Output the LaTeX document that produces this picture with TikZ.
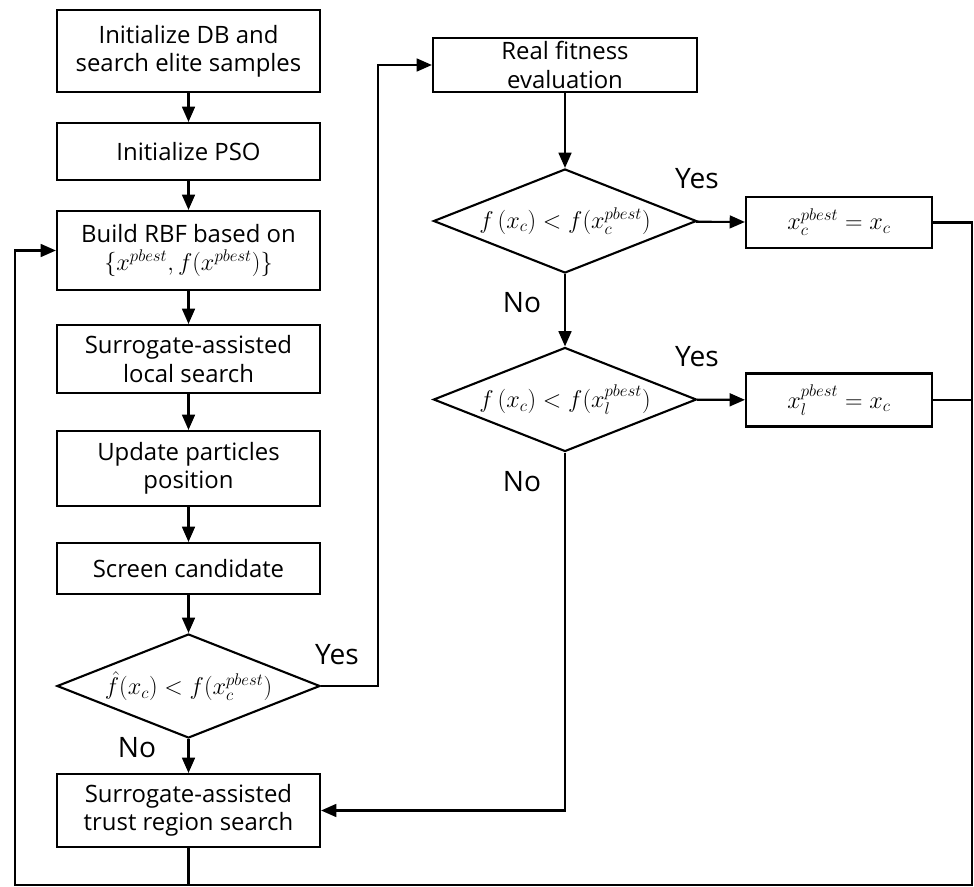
\documentclass[tikz,border=0pt]{standalone}
\usepackage{amsmath, amssymb}
\usepackage{fontspec}
\setmainfont{Open Sans}
\usepackage{tikz}
\usetikzlibrary{arrows.meta,shapes.geometric,positioning}

\tikzset{
    box/.style={draw, line width=1.5pt, align=center, inner sep=0pt,
        minimum width=6.575cm, font=\fontsize{17}{20}\selectfont},
    decision/.style={draw, diamond, line width=1.5pt, inner sep=0pt, aspect=2.5,
        minimum width=6.575cm, minimum height=2.6cm, font=\fontsize{16.5}{19}\selectfont},
    lbl/.style={font=\fontsize{20}{24}\selectfont}
}

\begin{document}
\begin{tikzpicture}[x=0.025cm, y=-0.025cm, line width=1.5pt,
    >={Triangle[length=0.38cm, width=0.32cm]}]
    \useasboundingbox (0,0) rectangle (974,887);
    % left column
    \node[box, minimum height=2.05cm] (init) at (188.5,51) {Initialize DB and\\search elite samples};
    \node[box, minimum height=1.425cm] (pso) at (188.5,151.5) {Initialize PSO};
    \node[box, minimum height=1.975cm] (rbf) at (188.5,250.5) {Build RBF based on\\$\{x^{pbest}, f(x^{pbest})\}$};
    \node[box, minimum height=1.7cm] (local) at (188.5,359) {Surrogate-assisted\\local search};
    \node[box, minimum height=1.875cm] (update) at (188.5,468.5) {Update particles\\position};
    \node[box, minimum height=1.275cm] (screen) at (188.5,568.5) {Screen candidate};
    \node[decision] (dec1) at (188.5,686) {$\hat{f}(x_c) < f(x_c^{pbest})$};
    \node[box, minimum height=1.825cm] (trust) at (188.5,810.5) {Surrogate-assisted\\trust region search};
    % right column
    \node[box, minimum width=6.6cm, minimum height=1.35cm] (real) at (565,65) {Real fitness\\evaluation};
    \node[decision] (dec2) at (565,221) {$f\,(x_c) < f(x_c^{pbest})$};
    \node[decision] (dec3) at (565,399.5) {$f\,(x_c) < f(x_l^{pbest})$};
    \node[box, minimum width=4.65cm, minimum height=1.275cm] (xc) at (839,222.5) {$x_c^{pbest} = x_c$};
    \node[box, minimum width=4.65cm, minimum height=1.325cm] (xl) at (839,400) {$x_l^{pbest} = x_c$};
    \coordinate (ybend) at (378,686);
    \coordinate (rb) at (972,885);
    \coordinate (lb) at (15,885);
    % connectors
    \draw[->] (init) -- (pso);
    \draw[->] (pso) -- (rbf);
    \draw[->] (rbf) -- (local);
    \draw[->] (local) -- (update);
    \draw[->] (update) -- (screen);
    \draw[->] (screen) -- (dec1);
    \draw[->] (dec1) -- (trust);
    \draw[->] (dec1.east) -- (ybend) |- (real.west);
    \draw[->] (real) -- (dec2);
    \draw[->] (dec2) -- (xc);
    \draw[->] (dec2) -- (dec3);
    \draw[->] (dec3) -- (xl);
    \draw[->] (dec3.south) |- (trust.east);
    \draw (xl.east) -- (xl.east -| rb);
    \draw (trust.south) -- (trust.south |- lb);
    \draw[->] (xc.east) -| (rb) -- (lb) |- (rbf.west);
    % labels
    \node[lbl] (yes1) at (337,655) {Yes};
    \node[lbl] (no1) at (137,748) {No};
    \node[lbl] (yes2) at (697,179) {Yes};
    \node[lbl] (no2) at (522,303) {No};
    \node[lbl] (yes3) at (697,357) {Yes};
    \node[lbl] (no3) at (522,482) {No};
\end{tikzpicture}
\end{document}
